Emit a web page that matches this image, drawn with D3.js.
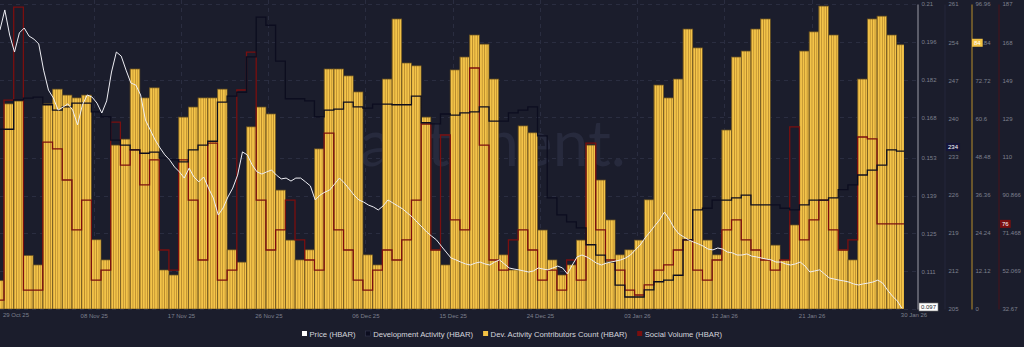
<!DOCTYPE html>
<html>
<head>
<meta charset="utf-8">
<script src="https://cdn.jsdelivr.net/npm/d3@7"></script>
<style>
  html, body { margin: 0; padding: 0; background: #1b1d2c; }
  svg { display: block; font-family: "Liberation Sans", Arial, sans-serif; }
</style>
</head>
<body>
<svg id="chart" width="1024" height="347"></svg>
<script>
// ---- data -------------------------------------------------------------
// one entry per calendar day, 29 Oct 2025 .. 30 Jan 2026
const firstDay = "2025-10-29";
const lastDay = "2026-01-30";

const contributors = [9, 65.2, 66.1, 17, 14, 65.2, 69.9, 68.0, 67.1, 68.0,
  22, 15.6, 52.1, 54.0, 76.3, 67.1, 70.3, 12.4, 10.8, 61.0,
  64.2, 67.1, 67.1, 69.9, 18.8, 14.9, 57.9, 64.2, 62.0, 37.8,
  21.9, 15.6, 18.8, 50.9, 76.3, 76.3, 74.1, 69.0, 17.2, 14.0,
  73.1, 92.2, 78.2, 77.3, 61.0, 18.8, 14.0, 76.0, 80.1, 87.1,
  84.2, 73.1, 17.2, 12.4, 58.2, 56.0, 25.1, 15.6, 10.8, 14.0,
  21.9, 52.1, 41.0, 28.3, 17.2, 18.8, 21.9, 34.7, 71.2, 67.1,
  73.1, 89.0, 83.0, 21.9, 17.2, 56.9, 80.1, 82.0, 89.0, 92.2,
  20.3, 15.6, 26.7, 82.0, 88.1, 96.3, 87.1, 18.8, 15.6, 73.1,
  92.2, 93.1, 87.1, 84];

const devActivity = [238.0, 238.0, 243.4, 243.7, 243.9, 242.5, 241.5, 242.1, 242.8, 242.8,
  241.2, 240.3, 236.0, 235.1, 234.2, 233.6, 233.8, 232.7, 232.4, 232.0,
  234.2, 235.1, 235.8, 243.0, 244.1, 244.8, 251.3, 258.6, 257.1, 250.5,
  243.6, 243.6, 243.2, 240.3, 241.5, 241.7, 243.0, 242.1, 241.9, 242.6,
  242.6, 242.5, 242.5, 244.1, 239.2, 239.0, 240.8, 240.6, 241.0, 241.2,
  242.1, 239.5, 239.5, 241.0, 241.5, 242.1, 236.8, 225.4, 222.3, 221.0,
  219.9, 216.8, 214.9, 213.6, 209.4, 207.2, 207.2, 208.5, 210.0, 210.3,
  211.2, 217.7, 223.2, 223.5, 225.0, 225.0, 225.4, 225.9, 224.1, 224.1,
  224.1, 223.5, 223.2, 224.1, 225.0, 225.0, 225.4, 226.9, 227.8, 229.6,
  230.5, 231.4, 234.2, 234.0];

const socialVolume = [37.2, 139.0, 186.3, 42.3, 42.3, 117.6, 114.1, 98.3, 72.9, 88.1,
  47.4, 52.5, 127.8, 105.9, 113.6, 95.8, 108.5, 62.7, 52.5, 108.5,
  88.1, 57.6, 117.1, 47.4, 52.5, 144.1, 163.4, 88.1, 62.7, 72.9,
  88.1, 67.8, 57.6, 52.5, 122.2, 72.9, 62.7, 47.4, 42.3, 52.5,
  62.7, 57.6, 67.8, 88.1, 126.8, 62.7, 121.2, 78.0, 72.9, 155.3,
  116.1, 57.6, 52.5, 67.8, 72.9, 62.7, 47.4, 52.5, 42.3, 57.6,
  47.4, 117.1, 72.9, 57.6, 52.5, 42.3, 39.8, 44.9, 52.5, 55.1,
  62.7, 67.8, 52.5, 47.4, 57.6, 72.9, 78.0, 67.8, 62.7, 57.6,
  52.5, 57.6, 125.3, 67.8, 78.0, 88.1, 72.9, 62.7, 67.8, 120.2,
  119.2, 76, 76, 76];

// price sampled every 12 hours from 29 Oct 14:00 UTC
const priceStart = "2025-10-29T14:00:00Z";
const priceStepHours = 12;
const price = [0.2004, 0.2078, 0.1985, 0.1922, 0.1993, 0.2011, 0.1981, 0.1970, 0.1952, 0.1855,
  0.1781, 0.1752, 0.1707, 0.1718, 0.1730, 0.1707, 0.1652, 0.1726, 0.1763, 0.1755,
  0.1733, 0.1696, 0.1741, 0.1848, 0.1922, 0.1907, 0.1855, 0.1807, 0.1800, 0.1763,
  0.1670, 0.1633, 0.1596, 0.1567, 0.1541, 0.1522, 0.1496, 0.1478, 0.1455, 0.1492,
  0.1459, 0.1441, 0.1459, 0.1418, 0.1381, 0.1318, 0.1344, 0.1385, 0.1418, 0.1466,
  0.1552, 0.1541, 0.1504, 0.1478, 0.1470, 0.1478, 0.1485, 0.1466, 0.1452, 0.1455,
  0.1444, 0.1455, 0.1455, 0.1441, 0.1426, 0.1374, 0.1392, 0.1403, 0.1411, 0.1433,
  0.1455, 0.1437, 0.1415, 0.1392, 0.1374, 0.1366, 0.1355, 0.1348, 0.1337, 0.1352,
  0.1374, 0.1363, 0.1352, 0.1341, 0.1326, 0.1311, 0.1292, 0.1274, 0.1255, 0.1240,
  0.1226, 0.1203, 0.1181, 0.1159, 0.1152, 0.1144, 0.1137, 0.1133, 0.1140, 0.1144,
  0.1137, 0.1133, 0.1144, 0.1152, 0.1137, 0.1122, 0.1118, 0.1115, 0.1111, 0.1107,
  0.1111, 0.1122, 0.1118, 0.1115, 0.1122, 0.1129, 0.1122, 0.1100, 0.1133, 0.1163,
  0.1170, 0.1163, 0.1152, 0.1140, 0.1133, 0.1140, 0.1144, 0.1148, 0.1152, 0.1159,
  0.1170, 0.1189, 0.1207, 0.1233, 0.1255, 0.1278, 0.1300, 0.1329, 0.1303, 0.1270,
  0.1248, 0.1237, 0.1226, 0.1218, 0.1211, 0.1203, 0.1192, 0.1189, 0.1196, 0.1192,
  0.1181, 0.1178, 0.1170, 0.1170, 0.1174, 0.1166, 0.1163, 0.1159, 0.1155, 0.1152,
  0.1144, 0.1144, 0.1137, 0.1133, 0.1137, 0.1144, 0.1129, 0.1107, 0.1111, 0.1115,
  0.1100, 0.1085, 0.1081, 0.1077, 0.1074, 0.1070, 0.1063, 0.1059, 0.1063, 0.1066,
  0.1070, 0.1077, 0.1066, 0.1040, 0.1018, 0.1000, 0.0972];

// axis ticks (the lowest price tick sits under the last-price badge)
const priceTicks = ["0.21", "0.196", "0.182", "0.168", "0.153", "0.139", "0.125", "0.111", "0.097"];
const devTicks = ["261", "254", "247", "240", "233", "226", "219", "212", "205"];
const contribTicks = ["96.96", "84.84", "72.72", "60.6", "48.48", "36.36", "24.24", "12.12", "0"];
const socialTicks = ["187.862", "168.463", "149.064", "129.665", "110.266", "90.866", "71.468", "52.069", "32.67"];
const socialTickText = ["187", "168", "149", "129", "110", "90.866", "71.468", "52.069", "32.67"];
const dateTicks = ["2025-11-08", "2025-11-17", "2025-11-26", "2025-12-06", "2025-12-15",
  "2025-12-24", "2026-01-03", "2026-01-12", "2026-01-21"];
const viewStart = "2025-10-29T14:06:00Z";
const viewEnd = "2026-01-30T18:45:00Z";

const legendItems = [
  { name: "Price (HBAR)", color: "#ffffff" },
  { name: "Development Activity (HBAR)", color: "#0c0d1f" },
  { name: "Dev. Activity Contributors Count (HBAR)", color: "#f2c244" },
  { name: "Social Volume (HBAR)", color: "#7a0f0f" }
];

// ---- layout -----------------------------------------------------------
const plotRight = 904, plotTop = 4, plotBottom = 309;
const axisX = { price: 917, dev: 944, contrib: 971, social: 998 };

const svg = d3.select("#chart");
svg.append("rect").attr("width", 1024).attr("height", 347).attr("fill", "#1b1d2c");

const days = d3.utcDay.range(new Date(firstDay + "T00:00:00Z"),
  d3.utcDay.offset(new Date(lastDay + "T00:00:00Z"), 1));
const dayData = days.map((d, i) => ({
  date: d, next: d3.utcDay.offset(d, 1),
  contrib: contributors[i], dev: devActivity[i], social: socialVolume[i]
}));

const x = d3.scaleUtc().domain([new Date(viewStart), new Date(viewEnd)]).range([0, plotRight]);
const yPrice = d3.scaleLinear().domain([0.097, 0.21]).range([plotBottom, plotTop]);
const yDev = d3.scaleLinear().domain([205, 261]).range([plotBottom, plotTop]);
const yContrib = d3.scaleLinear().domain([0, 96.96]).range([plotBottom, plotTop]);
const ySocial = d3.scaleLinear().domain([32.67, 187.862]).range([plotBottom, plotTop]);

const defs = svg.append("defs");
defs.append("clipPath").attr("id", "plotClip")
  .append("rect").attr("x", 0).attr("y", 0).attr("width", plotRight).attr("height", plotBottom);

const stripe = defs.append("pattern").attr("id", "stripes")
  .attr("patternUnits", "userSpaceOnUse").attr("width", 2.425).attr("height", 20);
stripe.append("rect").attr("width", 2.425).attr("height", 20).attr("fill", "#f4c449");
stripe.append("rect").attr("x", 1.65).attr("width", 0.775).attr("height", 20).attr("fill", "#b78a2c");

// ---- grid -------------------------------------------------------------
const grid = svg.append("g");
grid.selectAll("line.h").data(priceTicks).join("line")
  .attr("x1", 0).attr("x2", axisX.price)
  .attr("y1", d => Math.round(yPrice(+d)) + 0.5).attr("y2", d => Math.round(yPrice(+d)) + 0.5)
  .attr("stroke", "#2a2d40").attr("stroke-dasharray", "4,4");
grid.selectAll("line.v").data(dateTicks).join("line")
  .attr("x1", d => Math.round(x(new Date(d + "T06:00:00Z"))) + 0.5)
  .attr("x2", d => Math.round(x(new Date(d + "T06:00:00Z"))) + 0.5)
  .attr("y1", 0).attr("y2", plotBottom)
  .attr("stroke", "#2a2d40").attr("stroke-dasharray", "4,4");

// watermark
svg.append("text").attr("x", 332).attr("y", 166)
  .attr("font-size", 64).attr("font-family", "Lato, 'Liberation Sans', sans-serif")
  .attr("fill", "#272a3d").text("santiment.");

// ---- marks ------------------------------------------------------------
const plot = svg.append("g").attr("clip-path", "url(#plotClip)");

plot.append("g").selectAll("rect").data(dayData).join("rect")
  .attr("x", d => x(d.date))
  .attr("width", d => x(d.next) - x(d.date))
  .attr("y", d => yContrib(d.contrib))
  .attr("height", d => plotBottom - yContrib(d.contrib))
  .attr("fill", "url(#stripes)")
  .attr("stroke", "#6e5520").attr("stroke-width", 0.7);

const stepPoints = key => dayData.map(d => [d.date, d[key]])
  .concat([[new Date(viewEnd), dayData[dayData.length - 1][key]]]);

plot.append("path")
  .datum(stepPoints("social"))
  .attr("fill", "none").attr("stroke", "#7a0f0f").attr("stroke-width", 1.3)
  .attr("d", d3.line().curve(d3.curveStepAfter).x(d => x(d[0])).y(d => ySocial(d[1])));

plot.append("path")
  .datum(stepPoints("dev"))
  .attr("fill", "none").attr("stroke", "#0c0d1f").attr("stroke-width", 1.3)
  .attr("d", d3.line().curve(d3.curveStepAfter).x(d => x(d[0])).y(d => yDev(d[1])));

const p0 = new Date(priceStart);
const priceData = price.map((v, i) => [d3.utcHour.offset(p0, i * priceStepHours), v]);
plot.append("path")
  .datum(priceData)
  .attr("fill", "none").attr("stroke", "#eeeef4").attr("stroke-width", 1)
  .attr("stroke-linejoin", "round")
  .attr("d", d3.line().x(d => x(d[0])).y(d => yPrice(d[1])));

// ---- axes -------------------------------------------------------------
function rightAxis(scale, values, labels, xPos, lineColor) {
  const g = svg.append("g").attr("transform", `translate(${xPos},0)`);
  g.call(d3.axisRight(scale).tickValues(values.map(Number))
    .tickFormat((d, i) => labels[i]).tickSize(0).tickSizeOuter(0).tickPadding(4));
  g.select(".domain").attr("stroke", lineColor).attr("stroke-width", 1);
  g.selectAll("text").attr("fill", "#7d808e").attr("font-size", 6)
    .attr("font-family", "'Liberation Sans', Arial, sans-serif");
  return g;
}
// the last-price badge takes the place of the bottom price label
rightAxis(yPrice, priceTicks.slice(0, -1), priceTicks, axisX.price + 0.5, "#9c9ca6");
rightAxis(yDev, devTicks, devTicks, axisX.dev + 0.5, "#25273a");
rightAxis(yContrib, contribTicks, contribTicks, axisX.contrib + 0.5, "#b98f2a");
rightAxis(ySocial, socialTicks, socialTickText, axisX.social + 0.5, "#4a1218");

// date labels
const xAxis = svg.append("g").attr("transform", `translate(0,${plotBottom})`);
xAxis.call(d3.axisBottom(x).tickValues(dateTicks.map(d => new Date(d + "T06:00:00Z")))
  .tickFormat(d3.utcFormat("%d %b %y")).tickSize(0).tickPadding(5));
xAxis.select(".domain").remove();
xAxis.selectAll("text").attr("fill", "#7d808e").attr("font-size", 6);
svg.append("text").attr("x", 3).attr("y", 317).attr("font-size", 6).attr("fill", "#7d808e")
  .text(d3.utcFormat("%d %b %y")(new Date(firstDay + "T00:00:00Z")));
svg.append("text").attr("x", 914).attr("y", 317).attr("font-size", 6).attr("fill", "#7d808e")
  .attr("text-anchor", "middle")
  .text(d3.utcFormat("%d %b %y")(new Date(lastDay + "T00:00:00Z")));

// ---- last-value markers ------------------------------------------------
function marker(xPos, yVal, label, bg, fg, border) {
  const g = svg.append("g");
  const t = g.append("text").attr("font-size", 6).attr("fill", fg)
    .attr("x", xPos + 2).attr("y", yVal + 2.2).text(label);
  const w = t.node().getComputedTextLength();
  g.insert("rect", "text").attr("x", xPos).attr("y", yVal - 4).attr("width", w + 4).attr("height", 8)
    .attr("fill", bg).attr("stroke", border || "none").attr("stroke-width", 0.6);
}
marker(axisX.price + 2, Math.min(yPrice(price[price.length - 1]), plotBottom - 2), "0.097", "#ffffff", "#1b1d2c", "#777");
marker(axisX.dev + 2, yDev(devActivity[devActivity.length - 1]) - 4, "234", "#15153a", "#ffffff");
marker(axisX.contrib + 1, yContrib(contributors[contributors.length - 1]) - 2, "84", "#f2c244", "#ffffff");
marker(axisX.social + 2, ySocial(socialVolume[socialVolume.length - 1]), "76", "#7a0f0f", "#ffffff");

// ---- legend -----------------------------------------------------------
const legend = svg.append("g");
let cursor = 0;
const items = legend.selectAll("g").data(legendItems).join("g");
items.append("rect").attr("y", -6).attr("width", 5).attr("height", 5)
  .attr("fill", d => d.color).attr("stroke", d => d.color === "#0c0d1f" ? "#3a3c55" : "none").attr("stroke-width", 0.5);
items.append("text").attr("x", 7.5).attr("font-size", 7.7).attr("fill", "#d4d5dc").text(d => d.name);
items.each(function () {
  const w = d3.select(this).select("text").node().getComputedTextLength() + 7.5;
  d3.select(this).attr("transform", `translate(${cursor},0)`);
  cursor += w + 10;
});
legend.attr("transform", `translate(${512 - (cursor - 10) / 2},337)`);
</script>
</body>
</html>
